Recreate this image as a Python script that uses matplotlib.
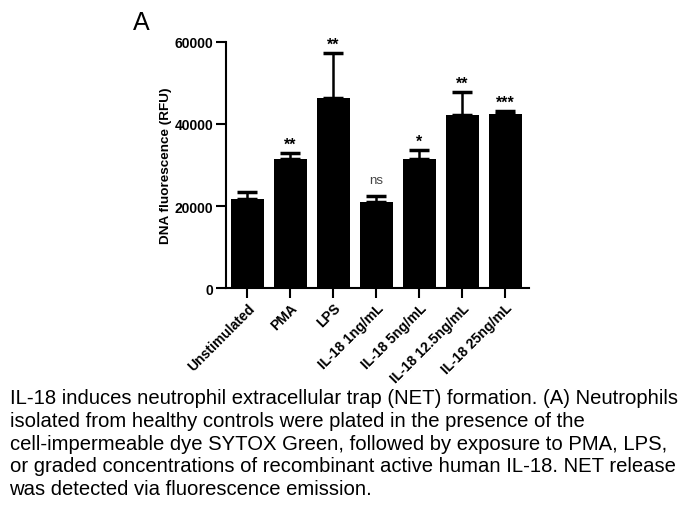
import matplotlib
matplotlib.use("Agg")
import matplotlib.pyplot as plt
import numpy as np

plt.rcParams['font.family'] = ['Liberation Sans', 'DejaVu Sans']

groups = ['Unstimulated', 'PMA', 'LPS', 'IL-18 1ng/mL', 'IL-18 5ng/mL',
          'IL-18 12.5ng/mL', 'IL-18 25ng/mL']
means = [21600, 31400, 46200, 21000, 31400, 42200, 42400]
upper = [23400, 33000, 57200, 22400, 33600, 47800, 43200]
signif = ['', '**', '**', 'ns', '*', '**', '***']

caption = ("IL-18 induces neutrophil extracellular trap (NET) formation. (A) Neutrophils\n"
           "isolated from healthy controls were plated in the presence of the\n"
           "cell-impermeable dye SYTOX Green, followed by exposure to PMA, LPS,\n"
           "or graded concentrations of recombinant active human IL-18. NET release\n"
           "was detected via fluorescence emission.")

fig = plt.figure(figsize=(6.8, 5.1), dpi=100)
ax = fig.add_axes([0.332, 0.433, 0.446, 0.483])

x = np.arange(len(groups))
err = np.array(upper) - np.array(means)
ax.bar(x, means, width=0.76, color='black', zorder=2)
ax.errorbar(x, means, yerr=[np.zeros(len(x)), err], fmt='none', ecolor='black',
            elinewidth=1.8, capsize=7.5, capthick=2.5, zorder=1)

for xi, top, s in zip(x, upper, signif):
    if s == 'ns':
        ax.annotate(s, (xi, top), xytext=(0, 7), textcoords='offset points',
                    ha='center', va='bottom', fontsize=9.5, color='#444444')
    elif s:
        ax.annotate(s, (xi, top), xytext=(0, 1), textcoords='offset points',
                    ha='center', va='bottom', fontsize=11.5, fontweight='bold')

ax.set_xlim(-0.5, 6.55)
ax.set_ylim(0, 60000)
ax.set_yticks([0, 20000, 40000, 60000])
ax.set_xticks(x)
ax.set_xticklabels(groups, rotation=45, ha='right', rotation_mode='anchor',
                   fontweight='bold', fontsize=10)
for lab in ax.get_yticklabels():
    lab.set_fontweight('bold')
    lab.set_fontsize(10)
ax.set_ylabel('DNA fluorescence (RFU)', fontweight='bold', fontsize=9.7, labelpad=2)

for side in ['top', 'right']:
    ax.spines[side].set_visible(False)
for side in ['left', 'bottom']:
    ax.spines[side].set_linewidth(1.5)
ax.tick_params(width=1.5, length=7, direction='out', pad=2)

fig.text(0.196, 0.955, 'A', fontsize=18, va='center')
fig.text(0.014, 0.237, caption, fontsize=14.6, va='top', ha='left',
         linespacing=1.25)

fig.savefig('out.png', dpi=100)
